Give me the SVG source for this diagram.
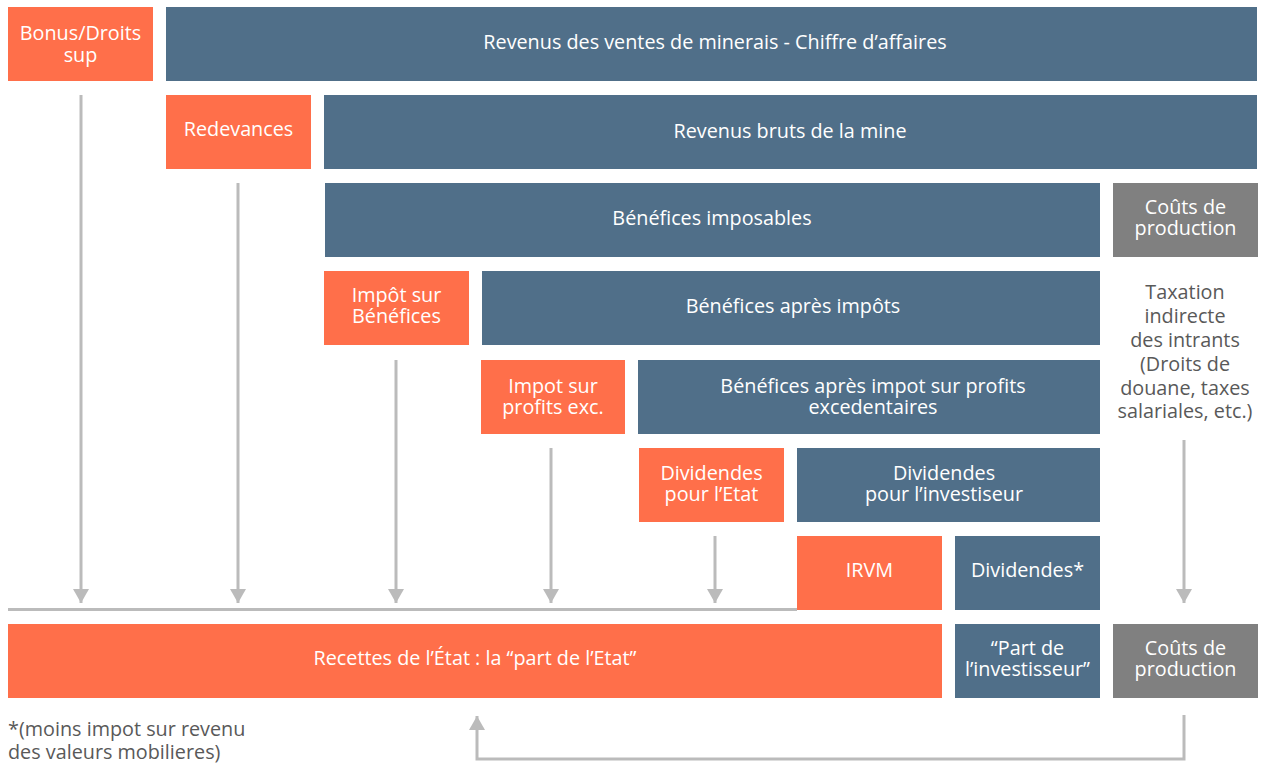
<svg xmlns="http://www.w3.org/2000/svg" width="1261" height="764" viewBox="0 0 1261 764">
<style>
.o{fill:#FF6F4A}
.b{fill:#506F89}
.g{fill:#808080}
text{font-family:"Open Sans","Noto Sans","Liberation Sans",sans-serif;font-size:19.8px}
.w{fill:#ffffff;text-anchor:middle}
.n{fill:#595959}
.c{text-anchor:middle}
.ln{fill:none;stroke:#BBBBBB;stroke-width:3}
</style>
<defs>
<marker id="ad" viewBox="0 0 14 16" refX="14" refY="8" markerWidth="14" markerHeight="16" markerUnits="userSpaceOnUse" orient="auto">
<path d="M0,0 L14,8 L0,16 Z" fill="#BBBBBB"/>
</marker>
</defs>
<rect width="1261" height="764" fill="#ffffff"/>
<g id="connectors">
<line class="ln" x1="8" y1="609.5" x2="797" y2="609.5"/>
<path class="ln" d="M81,95 V603" marker-end="url(#ad)"/>
<path class="ln" d="M238,183 V603" marker-end="url(#ad)"/>
<path class="ln" d="M396,360 V603" marker-end="url(#ad)"/>
<path class="ln" d="M551,448 V603" marker-end="url(#ad)"/>
<path class="ln" d="M715,536 V603" marker-end="url(#ad)"/>
<path class="ln" d="M1184,440 V603" marker-end="url(#ad)"/>
<path class="ln" d="M1184,715 V759 H477 V716" marker-end="url(#ad)"/>
</g>
<g id="bonus"><rect class="o" x="8" y="7" width="145" height="74"/><text class="w" x="80.5" y="40">Bonus/Droits</text><text class="w" x="80.5" y="62">sup</text></g>
<g id="revenus-ventes"><rect class="b" x="166" y="7" width="1091" height="74"/><text class="w" x="715" y="49">Revenus des ventes de minerais - Chiffre d’affaires</text></g>
<g id="redevances"><rect class="o" x="166" y="95" width="145" height="74"/><text class="w" x="238.5" y="136">Redevances</text></g>
<g id="revenus-bruts"><rect class="b" x="324" y="95" width="933" height="74"/><text class="w" x="790" y="138">Revenus bruts de la mine</text></g>
<g id="benefices-imposables"><rect class="b" x="325" y="183" width="775" height="74"/><text class="w" x="712" y="225">Bénéfices imposables</text></g>
<g id="couts-production-1"><rect class="g" x="1113" y="183" width="145" height="74"/><text class="w" x="1185.5" y="214">Coûts de</text><text class="w" x="1185.5" y="235">production</text></g>
<g id="impot-benefices"><rect class="o" x="324" y="271" width="145" height="74"/><text class="w" x="396.5" y="302">Impôt sur</text><text class="w" x="396.5" y="323">Bénéfices</text></g>
<g id="benefices-apres-impots"><rect class="b" x="482" y="271" width="618" height="74"/><text class="w" x="793" y="313">Bénéfices après impôts</text></g>
<g id="taxation-indirecte"><text class="n c" x="1185" y="299">Taxation</text><text class="n c" x="1185" y="323">indirecte</text><text class="n c" x="1185" y="347">des intrants</text><text class="n c" x="1185" y="371">(Droits de</text><text class="n c" x="1185" y="395">douane, taxes</text><text class="n c" x="1185" y="418">salariales, etc.)</text></g>
<g id="impot-profits-exc"><rect class="o" x="481" y="360" width="144" height="74"/><text class="w" x="553" y="393">Impot sur</text><text class="w" x="553" y="414">profits exc.</text></g>
<g id="benefices-apres-ipe"><rect class="b" x="638" y="360" width="462" height="74"/><text class="w" x="873" y="393">Bénéfices après impot sur profits</text><text class="w" x="873" y="414">excedentaires</text></g>
<g id="dividendes-etat"><rect class="o" x="639" y="448" width="145" height="74"/><text class="w" x="711.5" y="480">Dividendes</text><text class="w" x="711.5" y="501">pour l’Etat</text></g>
<g id="dividendes-investisseur"><rect class="b" x="797" y="448" width="303" height="74"/><text class="w" x="944" y="480">Dividendes</text><text class="w" x="944" y="501">pour l’investiseur</text></g>
<g id="irvm"><rect class="o" x="797" y="536" width="145" height="74"/><text class="w" x="869.5" y="577">IRVM</text></g>
<g id="dividendes-star"><rect class="b" x="955" y="536" width="145" height="74"/><text class="w" x="1027.5" y="577">Dividendes*</text></g>
<g id="recettes-etat"><rect class="o" x="8" y="624" width="934" height="74"/><text class="w" x="475" y="665">Recettes de l’État : la “part de l’Etat”</text></g>
<g id="part-investisseur"><rect class="b" x="955" y="624" width="145" height="74"/><text class="w" x="1027.5" y="655">“Part de</text><text class="w" x="1027.5" y="676">l’investisseur”</text></g>
<g id="couts-production-2"><rect class="g" x="1113" y="624" width="145" height="74"/><text class="w" x="1185.5" y="655">Coûts de</text><text class="w" x="1185.5" y="676">production</text></g>
<g id="footnote"><text class="n" x="8" y="736">*(moins impot sur revenu</text><text class="n" x="8" y="759">des valeurs mobilieres)</text></g>
</svg>
